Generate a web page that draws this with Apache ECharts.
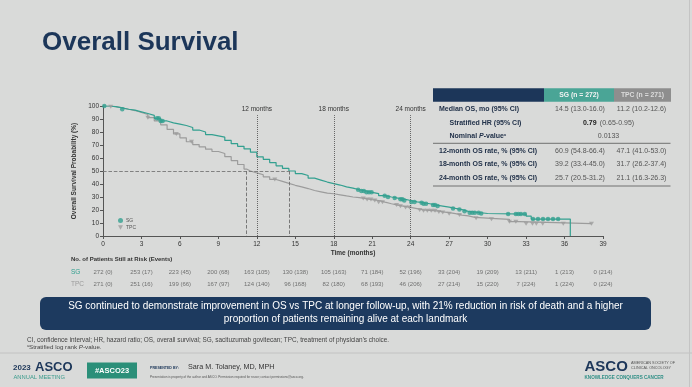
<!DOCTYPE html>
<html><head><meta charset="utf-8">
<script src="https://cdn.jsdelivr.net/npm/echarts@6/dist/echarts.min.js"></script>
<style>html,body{margin:0;padding:0;background:#d9dad9;}#c{width:692px;height:387px;}</style>
</head><body><div id="c"></div>
<script>
// ---- data ----
const sgTime = [0,0.5,1,1.5,2,2.5,3,3.5,4,4.5,5,5.5,6,6.5,7,7.5,8,8.5,9,9.5,10,10.5,11,11.5,12,12.5,13,13.5,14,14.5,15,15.5,16,16.5,17,17.5,18,18.5,19,19.5,20,20.5,21,21.5,22,22.5,23,23.5,24,24.5,25,25.5,26,26.5,27,27.5,28,28.5,29.5,30,33,33.4,36.45];
const sgSurv = [100,99.5,98.5,97.5,96.8,95.5,94.2,92.8,90.5,88.5,87,86,85,83.5,81.5,80,78,77,76,73.5,71,69,67,64.5,60.9,59,56.5,54,52,50,48,46.5,44.5,43,41.5,40.3,39.2,37.8,36.8,35.6,34.6,33.6,32.6,31,30,29.2,28.3,27.3,26.2,25.6,24.8,23.8,23,22.2,21.2,20.3,19,17.9,17.3,16.9,15.3,13,0];
const tpcTime = [0,0.5,1,1.5,2,2.5,3,3.5,4,4.5,5,5.5,6,6.5,7,7.5,8,8.5,9,9.5,10,10.5,11,11.2,11.5,12,12.5,13,13.5,14,14.5,15,15.5,16,16.5,17,17.5,18,18.5,19,19.5,20,20.5,21,21.5,22,22.5,23,23.5,24,24.5,25,26,26.5,27,27.5,28,28.5,29,30.3,31.7,32.5,38.1];
const tpcSurv = [100,99.5,98.5,97.5,96.5,95,93.5,91,88.5,85.5,82,78.5,75.5,72.5,70.3,68.5,66.8,65,63.5,61,58,55,51.5,50,48.5,47.1,45.5,43.5,42,40.5,39,37.8,36.5,35,34,33,32.5,31.7,30.8,30,29.5,28.8,28,27.3,26,24.8,23.8,22.8,22,21.1,20,19.4,18.5,18,17.2,16.1,15.5,14.3,13.6,12.8,11,9.5,9.5];
const sgCensor = [0.1,1.5,4.2,4.35,4.5,4.65,19.9,20.15,20.35,20.55,20.75,20.95,21.97,22.23,22.75,23.2,23.35,23.5,24.05,24.3,24.85,25.0,25.2,25.74,25.9,26.1,27.3,27.8,28.2,28.6,28.8,29.0,29.3,29.5,31.6,32.2,32.4,32.6,32.9,33.54,33.93,34.32,34.71,35.1,35.5];
const tpcCensor = [0.6,3.5,5.72,6.9,13.4,20.3,20.6,20.9,21.2,21.5,21.8,22.9,23.2,23.6,23.9,24.7,25.0,25.3,25.6,25.9,26.2,26.5,27.0,27.8,29.1,30.3,31.7,32.2,33.0,33.5,33.8,34.3,35.9,38.1];
const xTicks = [0,3,6,9,12,15,18,21,24,27,30,33,36,39];
const sgAtRisk = ['272 (0)','253 (17)','223 (45)','200 (68)','163 (105)','130 (138)','105 (163)','71 (184)','52 (196)','33 (204)','19 (209)','13 (211)','1 (213)','0 (214)'];
const tpcAtRisk = ['271 (0)','251 (16)','199 (66)','167 (97)','124 (140)','96 (168)','82 (180)','68 (193)','46 (206)','27 (214)','15 (220)','7 (224)','1 (224)','0 (224)'];
const landmarks = [12,18,24];
const medianSG = 14.5, medianTPC = 11.2;
const landmarkTop = 93;

// ---- style ----
const FONT = "'Liberation Sans', Arial, sans-serif";
const TEAL = '#33a090', GREY = '#9c9c9c', NAVY = '#1c3659';

function stepAt(times, surv, t){ let v = surv[0]; for (let i=0;i<times.length;i++){ if (times[i] <= t) v = surv[i]; } return v; }
const sgLine = sgTime.map((t,i)=>[t, sgSurv[i]]);
const tpcLine = tpcTime.map((t,i)=>[t, tpcSurv[i]]);
const sgMarks = sgCensor.map(t=>[t, stepAt(sgTime, sgSurv, t)]);
const tpcMarks = tpcCensor.map(t=>[t, stepAt(tpcTime, tpcSurv, t)]);
const TRI = 'path://M0,0L10,0L5,9Z';

const chart = echarts.init(document.getElementById('c'), null, {renderer:'canvas'});

const g = [];
function txt(x,y,text,opt){ g.push({type:'text', x, y, style:Object.assign({text, font:'6.5px '+FONT, fill:'#333', textVerticalAlign:'middle'}, opt||{})}); }
function rect(x,y,w,h,fill,r){ g.push({type:'rect', shape:{x,y,width:w,height:h,r:r||0}, style:{fill}}); }
function line(x1,y1,x2,y2,stroke,w){ g.push({type:'line', shape:{x1,y1,x2,y2}, style:{stroke, lineWidth:w||1}}); }

// title
txt(42, 43, 'Overall Survival', {font:'bold 26px '+FONT, fill:NAVY});
// table
rect(433, 88.3, 111, 13.4, NAVY);
rect(544, 88.3, 70, 13.4, '#4aa596');
rect(614, 88.3, 57, 13.4, '#8e8e8e');
txt(579, 95, 'SG (n = 272)', {font:'bold 6.8px '+FONT, fill:'#f2f2f2', textAlign:'center'});
txt(642.5, 95, 'TPC (n = 271)', {font:'bold 6.8px '+FONT, fill:'#dcdcdc', textAlign:'center'});
const LB = {font:'bold 7px '+FONT, fill:'#22324a'};
const VL = {font:'7px '+FONT, fill:'#555', textAlign:'center'};
txt(439, 109, 'Median OS, mo (95% CI)', LB);
txt(449.5, 122.7, 'Stratified HR (95% CI)', LB);
g.push({type:'text', x:449.5, y:136.3, style:{text:'{b|Nominal }{i|P}{b|-value}{s|a}', textVerticalAlign:'middle', rich:{b:{font:'bold 7px '+FONT, fill:'#22324a'}, i:{font:'italic bold 7px '+FONT, fill:'#22324a'}, s:{font:'bold 3.6px '+FONT, fill:'#22324a', verticalAlign:'top'}}}});
line(433, 143.3, 670.5, 143.3, '#555', 0.8);
txt(439, 150.7, '12-month OS rate, % (95% CI)', LB);
txt(439, 164, '18-month OS rate, % (95% CI)', LB);
txt(439, 178.3, '24-month OS rate, % (95% CI)', LB);
line(433, 186, 670.5, 186, '#555', 0.8);
txt(580, 109, '14.5 (13.0-16.0)', VL);
txt(641.5, 109, '11.2 (10.2-12.6)', VL);
g.push({type:'text', x:608.5, y:122.7, style:{text:'{b|0.79} {n|(0.65-0.95)}', textAlign:'center', textVerticalAlign:'middle', rich:{b:{font:'bold 7px '+FONT, fill:'#222'}, n:{font:'7px '+FONT, fill:'#555'}}}});
txt(608.5, 136.3, '0.0133', VL);
txt(580, 150.7, '60.9 (54.8-66.4)', VL); txt(641.5, 150.7, '47.1 (41.0-53.0)', VL);
txt(580, 164, '39.2 (33.4-45.0)', VL); txt(641.5, 164, '31.7 (26.2-37.4)', VL);
txt(580, 178.3, '25.7 (20.5-31.2)', VL); txt(641.5, 178.3, '21.1 (16.3-26.3)', VL);
// at risk title
txt(71, 259, 'No. of Patients Still at Risk (Events)', {font:'bold 6px '+FONT, fill:'#333'});
// blue box
rect(40, 297, 611, 33, '#1d3a5f', 6);
txt(345.5, 306.5, 'SG continued to demonstrate improvement in OS vs TPC at longer follow-up, with 21% reduction in risk of death and a higher', {font:'10px '+FONT, fill:'#fff', textAlign:'center'});
txt(345.5, 319.5, 'proportion of patients remaining alive at each landmark', {font:'10px '+FONT, fill:'#fff', textAlign:'center'});
// footnotes
txt(27, 340, "CI, confidence interval; HR, hazard ratio; OS, overall survival; SG, sacituzumab govitecan; TPC, treatment of physician's choice.", {font:'6.4px '+FONT, fill:'#444'});
g.push({type:'text', x:27, y:347, style:{text:'{s|a}{n|Stratified log rank }{i|P}{n|-value.}', textVerticalAlign:'middle', rich:{n:{font:'6.2px '+FONT, fill:'#444'}, i:{font:'italic 6.2px '+FONT, fill:'#444'}, s:{font:'3.6px '+FONT, fill:'#444', verticalAlign:'top'}}}});
line(0, 353, 692, 353, '#bdbdbd', 0.8);
line(689.5, 0, 689.5, 387, '#c4c4c4', 1);
// footer
txt(13, 367.5, '2023', {font:'bold 8px '+FONT, fill:NAVY});
txt(35, 367, 'ASCO', {font:'bold 13px '+FONT, fill:NAVY});
txt(13.5, 377, 'ANNUAL MEETING', {font:'5.8px '+FONT, fill:'#3a9b8c'});
rect(87, 362.5, 50, 16, '#2b8f79');
txt(112, 370.5, '#ASCO23', {font:'bold 7.5px '+FONT, fill:'#fff', textAlign:'center'});
txt(150, 368, 'PRESENTED BY:', {font:'bold 3.6px '+FONT, fill:NAVY});
txt(188, 367.5, 'Sara M. Tolaney, MD, MPH', {font:'7.2px '+FONT, fill:'#333'});
txt(150, 377, 'Presentation is property of the author and ASCO. Permission required for reuse; contact permissions@asco.org.', {font:'3.1px '+FONT, fill:'#555'});
txt(584.5, 366.5, 'ASCO', {font:'bold 15px '+FONT, fill:NAVY});
txt(631, 363, 'AMERICAN SOCIETY OF', {font:'3.8px '+FONT, fill:'#555'});
txt(631, 367.5, 'CLINICAL ONCOLOGY', {font:'3.8px '+FONT, fill:'#555'});
txt(584.5, 377.5, 'KNOWLEDGE CONQUERS CANCER', {font:'bold 4.6px '+FONT, fill:'#2f8f86'});

const axisCommon = {
  axisLine:{show:true, lineStyle:{color:'#555', width:1}},
  axisTick:{show:true, length:3, lineStyle:{color:'#555'}},
  splitLine:{show:false},
  axisLabel:{fontSize:6.5, color:'#333', fontFamily:FONT},
  nameTextStyle:{fontSize:6.5, fontWeight:'bold', color:'#333', fontFamily:FONT}
};

const option = {
  backgroundColor:'#d9dad9',
  animation:false,
  textStyle:{fontFamily:FONT},
  grid:[{left:103, right:89, top:106, bottom:151}, {left:103, right:89, top:266, height:24}],
  xAxis:[
    Object.assign({}, axisCommon, {type:'value', min:0, max:39, interval:3, gridIndex:0, name:'Time (months)', nameLocation:'middle', nameGap:14, axisLabel:Object.assign({}, axisCommon.axisLabel, {margin:5})}),
    {type:'value', min:0, max:39, gridIndex:1, show:false}
  ],
  yAxis:[
    Object.assign({}, axisCommon, {type:'value', min:0, max:100, interval:10, gridIndex:0, name:'Overall Survival Probability (%)', nameLocation:'middle', nameGap:24, nameRotate:90, axisLabel:Object.assign({}, axisCommon.axisLabel, {margin:4})}),
    {type:'category', data:['SG','TPC'], inverse:true, gridIndex:1, axisLine:{show:false}, axisTick:{show:false}, splitLine:{show:false},
     axisLabel:{align:'left', margin:32, fontSize:6.5, fontFamily:FONT, formatter:(v)=> v==='SG' ? '{sg|SG}' : '{tp|TPC}', rich:{sg:{color:TEAL, fontSize:6.5}, tp:{color:'#9a9a9a', fontSize:6.5}}}}
  ],
  legend:{orient:'vertical', left:113, top:213, itemWidth:5, itemHeight:5, itemGap:2, textStyle:{fontSize:5, color:'#555', padding:[0,0,0,-2]},
    data:[{name:'SG', icon:'circle'}, {name:'TPC', icon:TRI}]},
  series:[
    {name:'SG curve', type:'line', step:'end', data:sgLine, showSymbol:false, lineStyle:{color:TEAL, width:1.2}, z:3,
     markLine:{silent:true, symbol:'none', lineStyle:{color:'#666', type:'dotted', width:1},
       label:{show:true, position:'end', distance:2, fontSize:6.5, color:'#333'},
       data: landmarks.map(m=>[{coord:[m,0], label:{formatter:m+' months'}},{coord:[m,landmarkTop]}])}},
    {name:'TPC curve', type:'line', step:'end', data:tpcLine, showSymbol:false, lineStyle:{color:GREY, width:1.2}, z:2,
     markLine:{silent:true, symbol:'none', label:{show:false}, lineStyle:{color:'#6d6d6d', width:0.9},
       data:[
         [{coord:[0,50], lineStyle:{type:'dashed', color:'#777'}},{coord:[medianSG,50]}],
         [{coord:[medianTPC,50]},{coord:[medianTPC,0]}],
         [{coord:[medianSG,50]},{coord:[medianSG,0]}]
       ]}},
    {name:'SG', type:'scatter', data:sgMarks, symbol:'circle', symbolSize:4.5, itemStyle:{color:TEAL}, z:5},
    {name:'TPC', type:'scatter', data:tpcMarks, symbol:TRI, symbolSize:[5,4], itemStyle:{color:GREY}, z:4},
    {name:'SG at risk', type:'scatter', xAxisIndex:1, yAxisIndex:1, symbolSize:0, data:xTicks.map(m=>[m,0]),
     label:{show:true, position:'inside', fontSize:6, color:'#555', fontFamily:FONT, formatter:(p)=>sgAtRisk[p.dataIndex]}},
    {name:'TPC at risk', type:'scatter', xAxisIndex:1, yAxisIndex:1, symbolSize:0, data:xTicks.map(m=>[m,1]),
     label:{show:true, position:'inside', fontSize:6, color:'#555', fontFamily:FONT, formatter:(p)=>tpcAtRisk[p.dataIndex]}}
  ],
  graphic:g
};
chart.setOption(option);
</script></body></html>
